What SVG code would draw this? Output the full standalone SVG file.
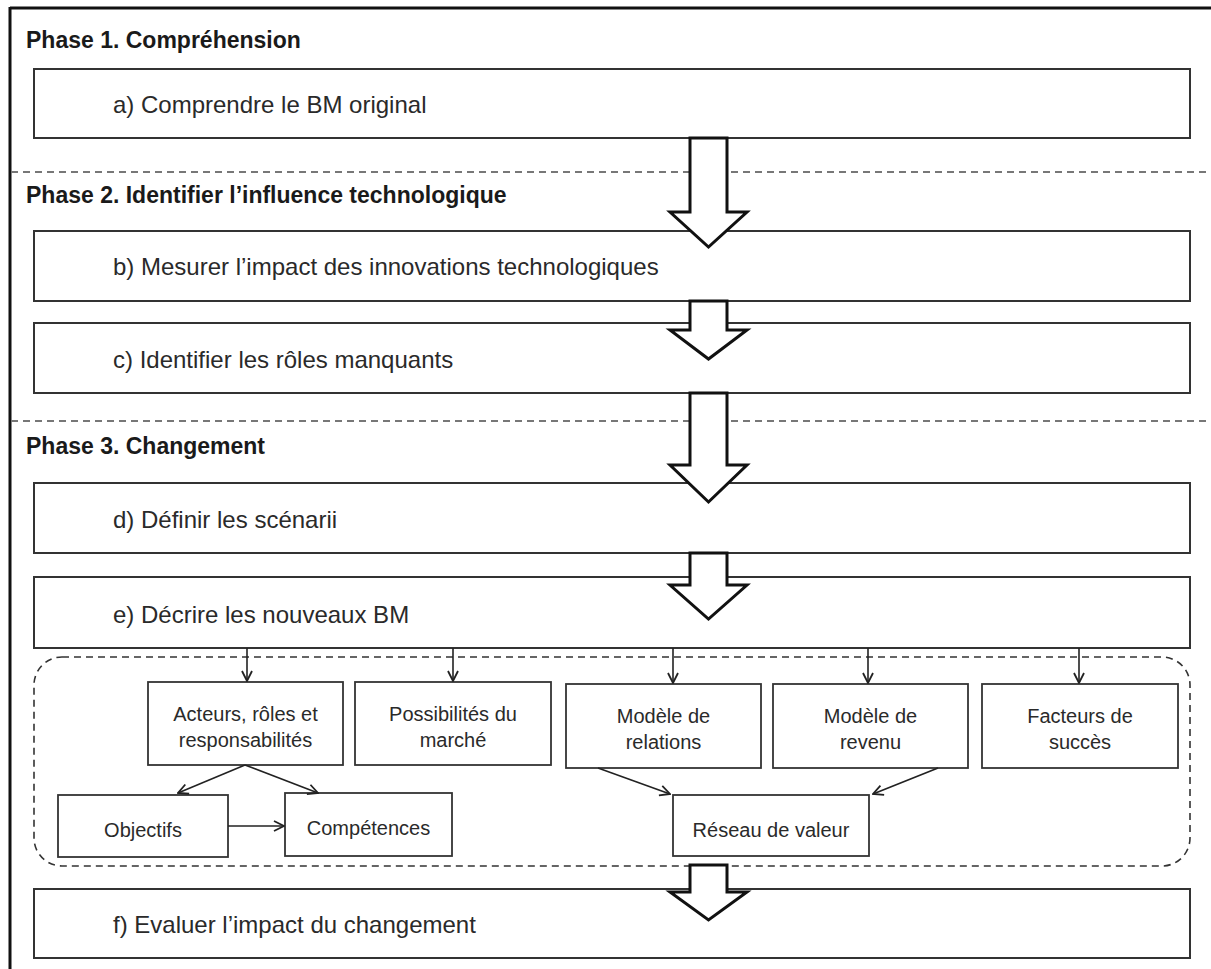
<svg xmlns="http://www.w3.org/2000/svg" width="1211" height="969" viewBox="0 0 1211 969">
<defs>
<style>
.frame{stroke:#111;stroke-width:3;fill:none}
.sep{stroke:#777;stroke-width:2;stroke-dasharray:7 5;fill:none}
.box{fill:#fff;stroke:#333;stroke-width:2}
.sbox{fill:#fff;stroke:#333;stroke-width:1.8}
.phase{font-family:"Liberation Sans",Arial,sans-serif;font-weight:bold;font-size:23px;fill:#1a1a1a}
.main{font-family:"Liberation Sans",Arial,sans-serif;font-size:24px;fill:#2a2a2a}
.sub{font-family:"Liberation Sans",Arial,sans-serif;font-size:20px;fill:#2a2a2a;text-anchor:middle}
.big{fill:#fff;stroke:#111;stroke-width:3;stroke-linejoin:miter}
.con{stroke:#222;stroke-width:1.6;fill:none}
</style>
<marker id="ah" viewBox="0 0 12 12" refX="11" refY="6" markerWidth="12" markerHeight="12" markerUnits="userSpaceOnUse" orient="auto">
<path d="M1,1 L11,6 L1,11" fill="none" stroke="#222" stroke-width="1.8"/>
</marker>
</defs>
<rect width="1211" height="969" fill="#fff"/>
<g id="frame">
<line class="frame" x1="10" y1="8" x2="1211" y2="8"/>
<line class="frame" x1="10" y1="7" x2="10" y2="969"/>
<line class="sep" x1="11" y1="172" x2="1211" y2="172"/>
<line class="sep" x1="11" y1="421" x2="1211" y2="421"/>
<rect x="34" y="657" width="1156" height="209" rx="28" ry="28" fill="none" stroke="#333" stroke-width="1.6" stroke-dasharray="7 5"/>
</g>
<g id="labels">
<text class="phase" x="26" y="48">Phase 1. Compréhension</text>
<text class="phase" x="26" y="203">Phase 2. Identifier l’influence technologique</text>
<text class="phase" x="26" y="454">Phase 3. Changement</text>
</g>
<g id="node-a"><rect class="box" x="34" y="69" width="1156" height="69"/><text class="main" x="113" y="113">a) Comprendre le BM original</text></g>
<g id="node-b"><rect class="box" x="34" y="231" width="1156" height="70"/><text class="main" x="113" y="275">b) Mesurer l’impact des innovations technologiques</text></g>
<g id="node-c"><rect class="box" x="34" y="323" width="1156" height="70"/><text class="main" x="113" y="368">c) Identifier les rôles manquants</text></g>
<g id="node-d"><rect class="box" x="34" y="483" width="1156" height="70"/><text class="main" x="113" y="528">d) Définir les scénarii</text></g>
<g id="node-e"><rect class="box" x="34" y="577" width="1156" height="71"/><text class="main" x="113" y="623">e) Décrire les nouveaux BM</text></g>
<g id="node-f"><rect class="box" x="34" y="889" width="1156" height="69"/><text class="main" x="113" y="933">f) Evaluer l’impact du changement</text></g>
<g id="node-acteurs"><rect class="sbox" x="148" y="682" width="195" height="83"/><text class="sub" x="245.5" y="721">Acteurs, rôles et</text><text class="sub" x="245.5" y="747">responsabilités</text></g>
<g id="node-possibilites"><rect class="sbox" x="355" y="682" width="196" height="83"/><text class="sub" x="453" y="721">Possibilités du</text><text class="sub" x="453" y="747">marché</text></g>
<g id="node-relations"><rect class="sbox" x="566" y="684" width="195" height="84"/><text class="sub" x="663.5" y="723">Modèle de</text><text class="sub" x="663.5" y="749">relations</text></g>
<g id="node-revenu"><rect class="sbox" x="773" y="684" width="195" height="84"/><text class="sub" x="870.5" y="723">Modèle de</text><text class="sub" x="870.5" y="749">revenu</text></g>
<g id="node-facteurs"><rect class="sbox" x="982" y="684" width="196" height="84"/><text class="sub" x="1080" y="723">Facteurs de</text><text class="sub" x="1080" y="749">succès</text></g>
<g id="node-objectifs"><rect class="sbox" x="58" y="795" width="170" height="62"/><text class="sub" x="143" y="837">Objectifs</text></g>
<g id="node-competences"><rect class="sbox" x="285" y="793" width="167" height="63"/><text class="sub" x="368.5" y="835">Compétences</text></g>
<g id="node-reseau"><rect class="sbox" x="673" y="795" width="196" height="61"/><text class="sub" x="771" y="837">Réseau de valeur</text></g>
<g id="connectors">
<polygon class="big" points="690,138 727,138 727,212 747,212 708.5,247 670,212 690,212"/>
<polygon class="big" points="690,301 727,301 727,330 747,330 708.5,359 670,330 690,330"/>
<polygon class="big" points="690,393 727,393 727,465 747,465 708.5,502 670,465 690,465"/>
<polygon class="big" points="690,553 727,553 727,585 747,585 708.5,619 670,585 690,585"/>
<polygon class="big" points="690,865 727,865 727,892 747,892 708.5,920 670,892 690,892"/>
<line class="con" x1="247" y1="648" x2="247" y2="681" marker-end="url(#ah)"/>
<line class="con" x1="453" y1="648" x2="453" y2="681" marker-end="url(#ah)"/>
<line class="con" x1="673" y1="648" x2="673" y2="683" marker-end="url(#ah)"/>
<line class="con" x1="868" y1="648" x2="868" y2="683" marker-end="url(#ah)"/>
<line class="con" x1="1079" y1="648" x2="1079" y2="683" marker-end="url(#ah)"/>
<line class="con" x1="245" y1="765" x2="178" y2="793" marker-end="url(#ah)"/>
<line class="con" x1="245" y1="765" x2="318" y2="793" marker-end="url(#ah)"/>
<line class="con" x1="228" y1="826" x2="284" y2="826" marker-end="url(#ah)"/>
<line class="con" x1="598" y1="768" x2="670" y2="794" marker-end="url(#ah)"/>
<line class="con" x1="938" y1="768" x2="873" y2="794" marker-end="url(#ah)"/>
</g>
</svg>
